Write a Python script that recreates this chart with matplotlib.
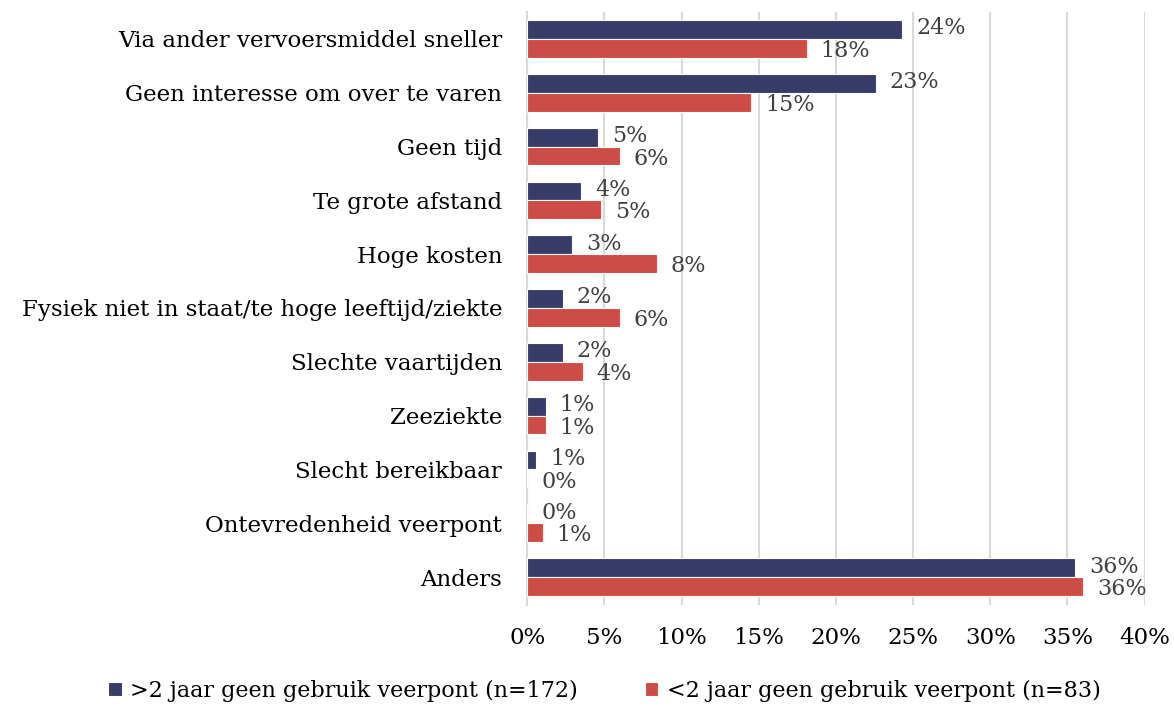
import matplotlib
matplotlib.use('Agg')
import matplotlib.pyplot as plt
import numpy as np

categories = ['Via ander vervoersmiddel sneller', 'Geen interesse om over te varen',
              'Geen tijd', 'Te grote afstand', 'Hoge kosten',
              'Fysiek niet in staat/te hoge leeftijd/ziekte', 'Slechte vaartijden',
              'Zeeziekte', 'Slecht bereikbaar', 'Ontevredenheid veerpont', 'Anders']
over2 = [24.3, 22.6, 4.6, 3.5, 2.9, 2.3, 2.3, 1.2, 0.6, 0.0, 35.5]
under2 = [18.1, 14.5, 6.0, 4.8, 8.4, 6.0, 3.6, 1.2, 0.0, 1.0, 36.0]
series_names = ['>2 jaar geen gebruik veerpont (n=172)', '<2 jaar geen gebruik veerpont (n=83)']
xticks = [0, 5, 10, 15, 20, 25, 30, 35, 40]

navy = '#383c68'
red = '#cb4d45'
txt = '#404040'

plt.rcParams['font.family'] = ['DejaVu Serif']
fs = 16.5

fig = plt.figure(figsize=(11.74, 7.06), dpi=100)
ax = fig.add_axes([0.449, 0.143, 0.526, 0.84])

y = np.arange(len(categories))
h = 0.35
b1 = ax.barh(y - h/2, over2, height=h, color=navy, edgecolor='white', linewidth=0.8,
             label=series_names[0], zorder=3)
b2 = ax.barh(y + h/2, under2, height=h, color=red, edgecolor='white', linewidth=0.8,
             label=series_names[1], zorder=3)

# value labels; dark ones nudged up a bit, red ones down
for bars, vals, dy in [(b1, over2, -0.02), (b2, under2, 0.05)]:
    for bar, v in zip(bars, vals):
        ax.text(v + 0.9, bar.get_y() + bar.get_height()/2 + dy, f'{int(round(v + 1e-9))}%',
                va='center', ha='left', fontsize=16, color=txt)

ax.set_ylim(len(categories) - 0.5 + 0.02, -0.5)
ax.set_xlim(0, 40)
ax.set_yticks(y)
ax.set_yticklabels(categories, fontsize=fs, color='black')
ax.set_xticks(xticks)
ax.set_xticklabels([f'{t}%' for t in xticks], fontsize=fs, color='black')
ax.tick_params(axis='y', length=0, pad=18)
ax.tick_params(axis='x', length=0, pad=16)
ax.xaxis.grid(True, color='#d9d9d9', linewidth=1.5, zorder=0)
for s in ['top', 'right', 'bottom']:
    ax.spines[s].set_visible(False)
ax.spines['left'].set_color('#d9d9d9')
ax.spines['left'].set_linewidth(1.5)

fig.legend(handles=[b1, b2], labels=series_names, loc='lower center',
           bbox_to_anchor=(0.515, -0.022), ncol=2, frameon=False, fontsize=16,
           handlelength=0.6, handleheight=0.6, handletextpad=0.4, columnspacing=3)

fig.savefig('out.png', dpi=100)
